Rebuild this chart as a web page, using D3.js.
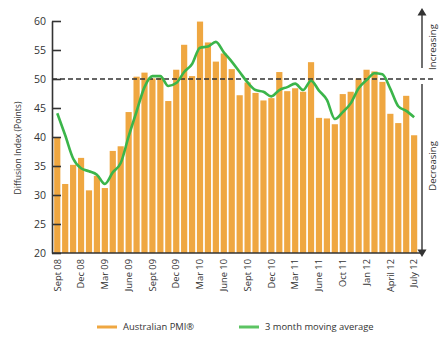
<!DOCTYPE html>
<html>
<head>
<meta charset="utf-8">
<script src="https://cdn.jsdelivr.net/npm/d3@7"></script>
<style>
  body { margin: 0; background: #fff; }
  text { font-family: "Open Sans", sans-serif; fill: #333; }
</style>
</head>
<body>
<div id="chart"></div>
<script>
// Months shown (Sept 11 is not in the series)
const months = [
  "Sept 08","Oct 08","Nov 08","Dec 08","Jan 09","Feb 09","Mar 09","Apr 09","May 09","June 09","July 09","Aug 09",
  "Sept 09","Oct 09","Nov 09","Dec 09","Jan 10","Feb 10","Mar 10","Apr 10","May 10","June 10","July 10","Aug 10",
  "Sept 10","Oct 10","Nov 10","Dec 10","Jan 11","Feb 11","Mar 11","Apr 11","May 11","June 11","July 11","Aug 11",
  "Oct 11","Nov 11","Dec 11","Jan 12","Feb 12","Mar 12","April 12","May 12","June 12","July 12"
];

// Australian PMI
const pmi = [
  40.0, 31.9, 35.2, 36.4, 30.8, 33.3, 31.2, 37.6, 38.4, 44.3, 50.4, 51.1,
  50.1, 50.2, 46.2, 51.6, 55.9, 50.5, 59.9, 56.3, 53.0, 54.4, 51.7, 47.2,
  49.4, 47.6, 46.3, 46.7, 51.2, 47.9, 48.4, 47.8, 52.9, 43.3, 43.2, 42.2,
  47.4, 47.8, 50.1, 51.6, 51.3, 49.5, 44.0, 42.4, 47.1, 40.3
];

// 3 month moving average
const movingAvg = [
  44.1, 40.3, 36.3, 34.6, 34.1, 33.5, 31.9, 33.9, 35.5, 40.1, 44.4, 48.6,
  50.5, 50.5, 48.8, 49.3, 51.2, 52.6, 55.4, 55.6, 56.4, 54.6, 53.0, 51.2,
  49.4, 48.1, 47.8, 47.0, 48.1, 48.6, 49.2, 48.1, 49.7, 48.0, 46.4, 43.1,
  44.3, 45.8, 48.4, 49.8, 51.0, 50.8, 48.3, 45.3, 44.5, 43.4
];

// Labelled months on the x axis
const tickMonths = ["Sept 08","Dec 08","Mar 09","June 09","Sept 09","Dec 09","Mar 10","June 10",
  "Sept 10","Dec 10","Mar 11","June 11","Oct 11","Jan 12","April 12","July 12"];
const yTicks = [20, 25, 30, 35, 40, 45, 50, 55, 60];

const width = 448, height = 341;
const plotLeft = 52, plotRight = 422, plotTop = 21, plotBottom = 253;

const svg = d3.select("#chart").append("svg")
  .attr("width", width)
  .attr("height", height);

const x = d3.scaleBand()
  .domain(months)
  .range([53.3, 418.1])
  .paddingInner(0.22)
  .paddingOuter(0.11);

const y = d3.scaleLinear()
  .domain([20, 60])
  .range([plotBottom, plotTop]);

// Bars
svg.selectAll(".bar")
  .data(months.map((m, i) => ({ m, v: pmi[i] })))
  .enter()
  .append("rect")
    .attr("class", "bar")
    .attr("x", d => x(d.m))
    .attr("y", d => y(d.v))
    .attr("width", x.bandwidth())
    .attr("height", d => y(20) - y(d.v))
    .attr("fill", "#efa741");

// 50 line
svg.append("line")
  .attr("x1", plotLeft).attr("x2", 436)
  .attr("y1", y(50)).attr("y2", y(50))
  .attr("stroke", "#333")
  .attr("stroke-width", 1.3)
  .attr("stroke-dasharray", "5,3");

// Moving average
const line = d3.line()
  .x((d, i) => x(months[i]) + x.bandwidth() / 2)
  .y(d => y(d))
  .curve(d3.curveMonotoneX);

svg.append("path")
  .datum(movingAvg)
  .attr("d", line)
  .attr("fill", "none")
  .attr("stroke", "#3bb54a")
  .attr("stroke-width", 2.6)
  .attr("stroke-linejoin", "round");

// Y axis
const yAxis = svg.append("g")
  .attr("transform", `translate(${plotLeft},0)`)
  .call(d3.axisLeft(y).tickValues(yTicks).tickSizeInner(-9).tickSizeOuter(0).tickPadding(6));
yAxis.select(".domain").attr("stroke", "#333").attr("stroke-width", 1.6);
yAxis.selectAll(".tick line").attr("stroke", "#333").attr("stroke-width", 1.6);
yAxis.selectAll("text").style("font-size", "10.5px").attr("fill", "#333");

svg.append("text")
  .attr("transform", "rotate(-90)")
  .attr("x", -148)
  .attr("y", 21)
  .attr("text-anchor", "middle")
  .style("font-size", "8.6px")
  .text("Diffusion Index (Points)");

// X axis
const xAxis = svg.append("g")
  .attr("transform", `translate(0,${plotBottom})`)
  .call(d3.axisBottom(x).tickValues(tickMonths).tickSize(0));
xAxis.select(".domain").remove();
xAxis.selectAll("text")
  .attr("transform", "rotate(-90)")
  .attr("x", -6)
  .attr("y", 0)
  .attr("dy", "0.35em")
  .style("text-anchor", "end")
  .style("font-size", "9.3px")
  .attr("fill", "#333");

svg.append("line")
  .attr("x1", plotLeft).attr("x2", plotRight)
  .attr("y1", plotBottom).attr("y2", plotBottom)
  .attr("stroke", "#333").attr("stroke-width", 1.6);

// Right arrows
svg.append("line")
  .attr("x1", plotRight).attr("x2", plotRight)
  .attr("y1", 14).attr("y2", 68)
  .attr("stroke", "#333").attr("stroke-width", 1.4);
svg.append("line")
  .attr("x1", plotRight).attr("x2", plotRight)
  .attr("y1", 84).attr("y2", 250)
  .attr("stroke", "#333").attr("stroke-width", 1.4);
svg.append("path")
  .attr("d", `M${plotRight},8L${plotRight - 4.5},15.5L${plotRight + 4.5},15.5Z`)
  .attr("fill", "#333");
svg.append("path")
  .attr("d", `M${plotRight},257L${plotRight - 4.5},249.5L${plotRight + 4.5},249.5Z`)
  .attr("fill", "#333");

svg.append("text")
  .attr("transform", "rotate(-90)")
  .attr("x", -47)
  .attr("y", 436)
  .attr("text-anchor", "middle")
  .style("font-size", "9.6px")
  .attr("fill", "#444")
  .text("Increasing");

svg.append("text")
  .attr("transform", "rotate(-90)")
  .attr("x", -166)
  .attr("y", 436)
  .attr("text-anchor", "middle")
  .style("font-size", "9.6px")
  .attr("fill", "#444")
  .text("Decreasing");

// Legend
const legend = [
  { label: "Australian PMI®", color: "#efa741", x: 97 },
  { label: "3 month moving average", color: "#5cc463", x: 239 }
];
const lg = svg.selectAll(".legend")
  .data(legend)
  .enter()
  .append("g")
  .attr("transform", d => `translate(${d.x},327)`);
lg.append("line")
  .attr("x1", 0).attr("x2", 20)
  .attr("stroke", d => d.color)
  .attr("stroke-width", 3);
lg.append("text")
  .attr("x", 26)
  .attr("dy", "0.35em")
  .style("font-size", "9.4px")
  .text(d => d.label);
</script>
</body>
</html>
